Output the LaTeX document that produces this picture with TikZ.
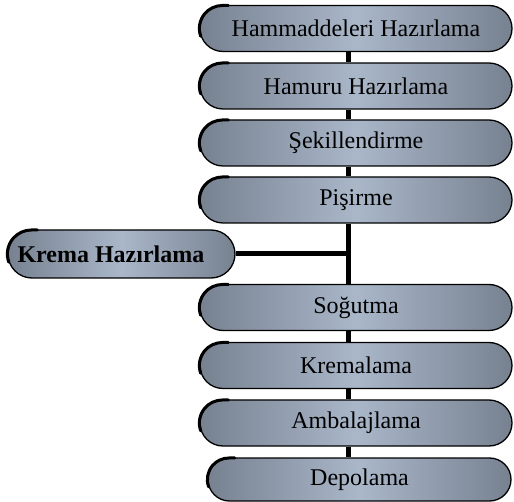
\documentclass[tikz,border=0pt]{standalone}
\usepackage{fontspec}
\setmainfont{Liberation Serif}
\usetikzlibrary{shapes.misc,fadings}
\definecolor{edgecol}{RGB}{126,137,153}
\definecolor{midcol}{RGB}{204,219,240}
\tikzfading[name=vfade, top color=transparent!65, middle color=transparent!100, bottom color=transparent!65]
\tikzset{
  stepbox/.style={rounded rectangle, draw=black, line width=1.3pt,
    minimum width=312pt, minimum height=46pt, inner sep=0pt,
    left color=edgecol, right color=edgecol, middle color=midcol,
    path picture={\fill[edgecol!85!black, path fading=vfade]
      (path picture bounding box.south west) rectangle (path picture bounding box.north east);},
    font=\fontsize{24}{26}\selectfont},
  spine/.style={line width=5pt, black},
  accent/.style={line width=3pt, black}
}
\begin{document}
\begin{tikzpicture}[x=1pt,y=-1pt]
\useasboundingbox (0,0) rectangle (514,502);
\node[stepbox] (b1) at (356,28.5) {Hammaddeleri Hazırlama};
\node[stepbox] (b2) at (356,86) {Hamuru Hazırlama};
\node[stepbox] (b3) at (356,143) {Şekillendirme};
\node[stepbox] (b4) at (356,200) {Pişirme};
\node[stepbox] (b5) at (356,307.5) {Soğutma};
\node[stepbox] (b6) at (356,365.5) {Kremalama};
\node[stepbox] (b7) at (356,423) {Ambalajlama};
\node[stepbox, minimum width=303pt, minimum height=43pt] (b8) at (359.5,479.5) {Depolama};
\node[stepbox, minimum width=227pt, minimum height=48pt] (kr) at (121.5,254) {};
\node[anchor=west, inner sep=0pt, font=\fontsize{24}{26}\selectfont\bfseries] (krt) at ([xshift=10pt]kr.west) {Krema Hazırlama};
\coordinate (sp) at (348,0);
\coordinate (jn) at (348,254);
\draw[spine] (b1.south -| sp) -- (b2.north -| sp);
\draw[spine] (b2.south -| sp) -- (b3.north -| sp);
\draw[spine] (b3.south -| sp) -- (b4.north -| sp);
\draw[spine] (b4.south -| sp) -- (b5.north -| sp);
\draw[spine] (kr.east) -- (jn);
\draw[spine] (b5.south -| sp) -- (b6.north -| sp);
\draw[spine] (b6.south -| sp) -- (b7.north -| sp);
\draw[spine] (b7.south -| sp) -- (b8.north -| sp);
\foreach \n/\r in {b1/23,b2/23,b3/23,b4/23,b5/23,b6/23,b7/23,b8/21.5,kr/24}
  \draw[accent, line cap=round] ([xshift=0.0603*\r pt, yshift=-0.342*\r pt]\n.west) arc[start angle=200, end angle=90, radius=\r pt] -- ++(6pt,0);
\end{tikzpicture}
\end{document}
